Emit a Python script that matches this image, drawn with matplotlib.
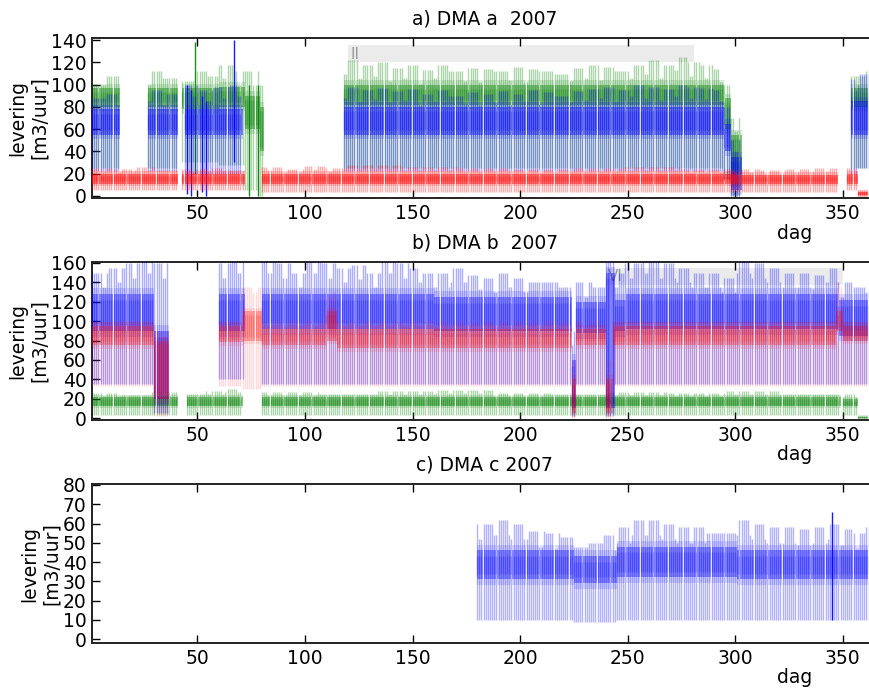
import numpy as np
import matplotlib
matplotlib.use("Agg")
import matplotlib.pyplot as plt
from matplotlib.patches import Rectangle

# ---------------- data ----------------
# each entry: (start_day, end_day, night_low, dense_band_low, dense_band_high, daily_peaks)
# daily_peaks is one value or a list of values read left-to-right across the range
a_green = [(1, 13, 25, 80, 97, [100, 108]), (27, 40, 25, 80, 97, [112, 106]),
           (43, 60, 30, 78, 97, [103, 112, 108]), (60, 72, 28, 80, 98, [118, 112]),
           (72, 78, 5, 60, 90, 112), (79, 80, 0, 40, 80, 100),
           (118, 295, 25, 82, 100, [122, 118, 120, 115, 118, 113, 118, 112, 115, 114, 112, 116,
                                    114, 112, 110, 115, 118, 116, 112, 118, 122, 118, 125, 120,
                                    118, 114]),
           (295, 298, 15, 60, 88, 100), (298, 302, 0, 20, 55, 70),
           (354, 366, 25, 80, 97, [108, 112])]
a_blue = [(1, 13, 22, 55, 78, [88, 92]), (27, 40, 22, 55, 78, [95, 92]),
          (44, 70, 20, 55, 78, [100, 95, 98, 100]),
          (118, 295, 22, 55, 80, [98, 95, 97, 94, 96, 92, 95, 90, 93, 92, 94, 92,
                                  95, 93, 90, 94, 96, 98, 95, 100, 98, 96, 100, 98,
                                  97, 95]),
          (295, 298, 15, 40, 65, 80), (298, 302, 0, 5, 35, 50),
          (354, 357, 20, 55, 85, 105), (357, 366, 25, 55, 85, 110)]
a_red = [(1, 40, 5, 11, 20, [25, 24, 26, 23]), (43, 71, 5, 11, 20, [24, 25, 23]),
         (80, 118, 3, 11, 20, [26, 24, 27, 25]), (118, 300, 3, 11, 20, [28, 26, 25, 24, 25, 26, 24]),
         (300, 347, 3, 11, 19, [24, 23, 24, 25]), (352, 357, 5, 11, 20, 25),
         (357, 366, 0, 1, 3, 5)]
# single-day spikes: (day, low, high)
a_blue_spikes = [(45, 2, 100), (47, 0, 95), (52, 3, 90), (54, 0, 85), (67, 30, 140)]
a_green_spikes = [(49, 20, 138), (74, 0, 100), (78, 0, 100)]

b_blue = [(1, 30, 35, 90, 128, [150, 155, 160, 165]), (30, 36, 5, 20, 90, 160),
          (60, 71, 40, 90, 128, [160, 165]),
          (80, 160, 35, 92, 128, [165, 160, 150, 165, 160, 155, 158, 150, 165, 160, 155, 150]),
          (160, 224, 35, 90, 125, [150, 155, 148, 145, 150, 145, 140, 140, 135]),
          (224, 226, 2, 10, 60, 90), (226, 240, 35, 88, 120, [140, 135]),
          (240, 244, 2, 10, 150, 165), (244, 248, 35, 90, 122, 150),
          (249, 300, 35, 92, 128, [160, 165, 160, 155, 150, 150, 145]),
          (301, 347, 35, 92, 128, [165, 160, 155, 150, 150, 148, 155]),
          (348, 366, 35, 85, 122, [140, 135, 130])]
b_red = [(1, 30, 33, 75, 95, 100), (30, 36, 2, 20, 80, 90), (60, 71, 33, 78, 95, 100),
         (71, 80, 30, 80, 110, 135), (80, 110, 33, 75, 92, 100), (110, 115, 33, 80, 110, 130),
         (115, 224, 33, 72, 92, 100), (224, 226, 0, 5, 40, 60), (226, 240, 33, 75, 92, 100),
         (240, 243, 0, 5, 40, 60), (243, 347, 33, 75, 95, 100), (347, 350, 33, 90, 110, 140),
         (350, 366, 33, 80, 95, 100)]
b_green = [(1, 40, 3, 12, 22, [26, 24, 27]), (45, 70, 3, 12, 22, [25, 28, 30]),
           (80, 348, 3, 12, 22, [27, 25, 28, 29, 26, 25, 27, 26, 28, 25]),
           (350, 357, 3, 12, 20, 25), (357, 366, 0, 0, 1, 2)]

c_blue = [(180, 225, 10, 31, 46, [60, 62, 60, 56, 55, 53]),
          (225, 245, 9, 29, 43, [48, 50, 54]),
          (245, 300, 10, 32, 48, [58, 62, 62, 60, 58, 58, 55, 55]),
          (301, 366, 10, 31, 46, [62, 60, 58, 58, 57, 58, 60, 57, 55, 58])]
c_blue_spikes = [(345, 10, 66)]

# lower weekend (Sat/Sun) peaks, per panel series
weekend_drop = {"a_green": 12, "a_blue": 10, "a_red": 3, "b_blue": 15, "b_red": 5,
                "b_green": 3, "c_blue": 8}

titles = ["a) DMA a  2007", "b) DMA b  2007", "c) DMA c 2007"]
ylims = [(-2, 142), (-2, 161), (-2, 80.5)]
yticks = [np.arange(0, 141, 20), np.arange(0, 161, 20), np.arange(0, 81, 10)]
xticks = [50, 100, 150, 200, 250, 300, 350]
days = np.arange(1, 367)
is_weekend = ((days - 1) % 7) >= 5   # 1 Jan 2007 was a Monday


def build(segs, drop):
    low = np.full(days.shape, np.nan)
    blo = low.copy(); bhi = low.copy(); high = low.copy()
    for s, e, lo, bl, bh, pk in segs:
        idx = np.where((days >= s) & (days <= e))[0]
        low[idx] = lo; blo[idx] = bl; bhi[idx] = bh
        pks = pk if isinstance(pk, list) else [pk]
        for chunk, v in zip(np.array_split(idx, len(pks)), pks):
            high[chunk] = v
    high = np.where(is_weekend & (high - drop > bhi), high - drop, high)
    return low, blo, bhi, high


def draw(ax, segs, color, drop, spikes=(), z=2, band_alpha=0.45, line_alpha=0.32, fuzz=4):
    low, blo, bhi, high = build(segs, drop)
    ok = np.isfinite(low)
    d = days[ok]
    # night-low to daily-peak strokes
    ax.vlines(d, low[ok], high[ok], color=color, alpha=line_alpha, lw=1.0, zorder=z)
    # soft edge around the dense band
    ax.vlines(d + 0.5, blo[ok] - fuzz, bhi[ok] + fuzz, color=color, alpha=band_alpha * 0.35,
              lw=1.4, zorder=z)
    # dense daytime band, drawn as strokes
    ax.vlines(d + 0.5, blo[ok], bhi[ok], color=color, alpha=band_alpha, lw=1.3, zorder=z)
    ax.vlines(d, blo[ok] + fuzz, bhi[ok] - fuzz, color=color, alpha=band_alpha * 0.6, lw=1.0,
              zorder=z)
    for dd, lo, hi in spikes:
        ax.vlines(dd, lo, hi, color=color, alpha=0.9, lw=1.0, zorder=z)


fig = plt.figure(figsize=(8.69, 6.88), dpi=100)
L, W = 0.1059, 0.9035
axes = [fig.add_axes([L, 0.7122, W, 0.2326]),
        fig.add_axes([L, 0.3895, W, 0.2297]),
        fig.add_axes([L, 0.0654, W, 0.2311])]

G, B, R = (0, 0.5, 0), (0, 0, 1), (1, 0, 0)

ax = axes[0]
ax.add_patch(Rectangle((120, 120), 161, 15.5, facecolor="#ebebeb", edgecolor="none", zorder=1))
ax.text(121, 127.5, "II", color="#999999", fontsize=11, va="center", zorder=1)
draw(ax, a_green, G, weekend_drop["a_green"], a_green_spikes, z=2)
draw(ax, a_blue, B, weekend_drop["a_blue"], a_blue_spikes, z=3)
draw(ax, a_red, R, weekend_drop["a_red"], z=4, band_alpha=0.5, fuzz=2)

ax = axes[1]
ax.add_patch(Rectangle((240, 137), 110, 18, facecolor="#ebebeb", edgecolor="none", zorder=1))
ax.text(241, 146, "VI", color="#999999", fontsize=11, va="center", zorder=1)
draw(ax, b_green, G, weekend_drop["b_green"], z=2, fuzz=2)
draw(ax, b_blue, B, weekend_drop["b_blue"], z=3, band_alpha=0.4, fuzz=6)
draw(ax, b_red, R, weekend_drop["b_red"], z=4, band_alpha=0.3, line_alpha=0.15, fuzz=4)

ax = axes[2]
draw(ax, c_blue, B, weekend_drop["c_blue"], c_blue_spikes, z=3, band_alpha=0.4,
     line_alpha=0.3, fuzz=3)

for i, ax in enumerate(axes):
    ax.set_xlim(1, 366)
    ax.set_ylim(*ylims[i])
    ax.set_xticks(xticks)
    ax.set_yticks(yticks[i])
    ax.tick_params(direction="in", length=6, width=1, labelsize=13.5, top=True, right=True, pad=4)
    for sp in ax.spines.values():
        sp.set_linewidth(1.4)
        sp.set_color("#222222")
    ax.set_title(titles[i], fontsize=13.5, pad=10)
    ax.set_ylabel("levering\n[m3/uur]", fontsize=13.5, labelpad=1)
    ax.text(0.8955, -0.22, "dag", transform=ax.transAxes, ha="center", va="center", fontsize=13.5)

fig.savefig("out.png", dpi=100)
